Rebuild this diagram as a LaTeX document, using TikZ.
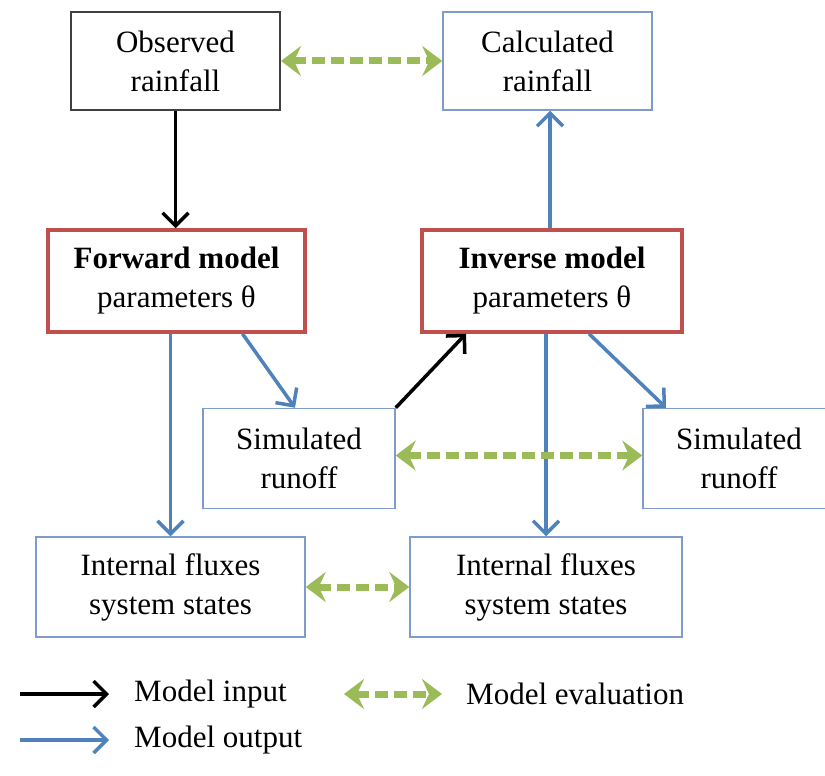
\documentclass[tikz,border=0pt]{standalone}
\usepackage{fontspec}
\setmainfont{Liberation Serif}
\usetikzlibrary{arrows.meta}
\definecolor{bluec}{HTML}{4F81BD}
\definecolor{boxblue}{HTML}{7F9BCB}
\definecolor{redc}{HTML}{C0504D}
\definecolor{greenc}{HTML}{9BBB59}
\definecolor{darkc}{HTML}{404040}
\begin{document}
\begin{tikzpicture}[x=1pt,y=-1pt,
  txt/.style={font=\fontsize{31}{39}\selectfont},
  box/.style={rectangle, align=center, inner sep=0pt, txt, minimum height=100pt},
  obsbox/.style={box, draw=darkc, line width=2pt},
  outbox/.style={box, draw=boxblue, line width=1.5pt},
  modbox/.style={box, draw=redc, line width=3.5pt},
  inarrow/.style={draw=black, line width=3.5pt, -{Straight Barb[length=13pt,width=26pt]}},
  outarrow/.style={draw=bluec, line width=3.5pt, -{Straight Barb[length=13pt,width=26pt]}},
  evalarrow/.style={draw=greenc, line width=7pt, dash pattern=on 13pt off 6pt,
    {Stealth[length=20pt,width=30pt,inset=7pt]}-{Stealth[length=20pt,width=30pt,inset=7pt]}},
  legtxt/.style={txt, anchor=west, inner sep=0pt}
]
\useasboundingbox (0,0) rectangle (825,776);
\clip (0,0) rectangle (825,776);
\fill[white] (0,0) rectangle (825,776);

\node[obsbox, minimum width=209pt, minimum height=98pt] (obs) at (175.5,61) {Observed\\rainfall};
\node[outbox, minimum width=209pt, minimum height=98pt] (calc) at (547.5,61) {Calculated\\rainfall};
\node[modbox, minimum width=257pt, minimum height=102pt] (fwd) at (176.5,281) {\textbf{Forward model}\\parameters θ};
\node[modbox, minimum width=260pt, minimum height=102pt] (inv) at (552,281) {\textbf{Inverse model}\\parameters θ};
\node[outbox, minimum width=192pt] (sim1) at (299,458.5) {Simulated\\runoff};
\node[outbox, minimum width=192pt] (sim2) at (739,458.5) {Simulated\\runoff};
\node[outbox, minimum width=269pt] (int1) at (170.5,587) {Internal fluxes\\system states};
\node[outbox, minimum width=272pt] (int2) at (546,587) {Internal fluxes\\system states};

% model input
\draw[inarrow] (obs.south) -- (obs.south |- fwd.north);
\draw[inarrow] (sim1.north east) -- ([xshift=-86pt]inv.south);
% model output
\draw[outarrow] ([xshift=-2pt]inv.north) -- ([xshift=-2pt]inv.north |- calc.south);
\draw[outarrow] (fwd.south -| int1.north) -- (int1.north);
\draw[outarrow] ([xshift=66pt]fwd.south) -- ([xshift=-4pt]sim1.north);
\draw[outarrow] (inv.south -| int2.north) -- (int2.north);
\draw[outarrow] ([xshift=37pt]inv.south) -- ([xshift=-73pt]sim2.north);
% model evaluation
\draw[evalarrow] (obs.east) -- (calc.west);
\draw[evalarrow] ([yshift=3pt]sim1.east) -- ([yshift=3pt]sim2.west);
\draw[evalarrow] (int1.east) -- (int2.west);

% legend
\coordinate (la1) at (20,694);
\coordinate (lb1) at (109,694);
\coordinate (la2) at (344,694);
\coordinate (lb2) at (442,694);
\coordinate (la3) at (20,740);
\coordinate (lb3) at (109,740);
\draw[inarrow] (la1) -- (lb1);
\draw[evalarrow] (la2) -- (lb2);
\draw[outarrow] (la3) -- (lb3);
\node[legtxt] (t1) at (134,694) {Model input};
\node[legtxt] (t2) at (466,694) {Model evaluation};
\node[legtxt] (t3) at (134,740) {Model output};
\end{tikzpicture}
\end{document}
